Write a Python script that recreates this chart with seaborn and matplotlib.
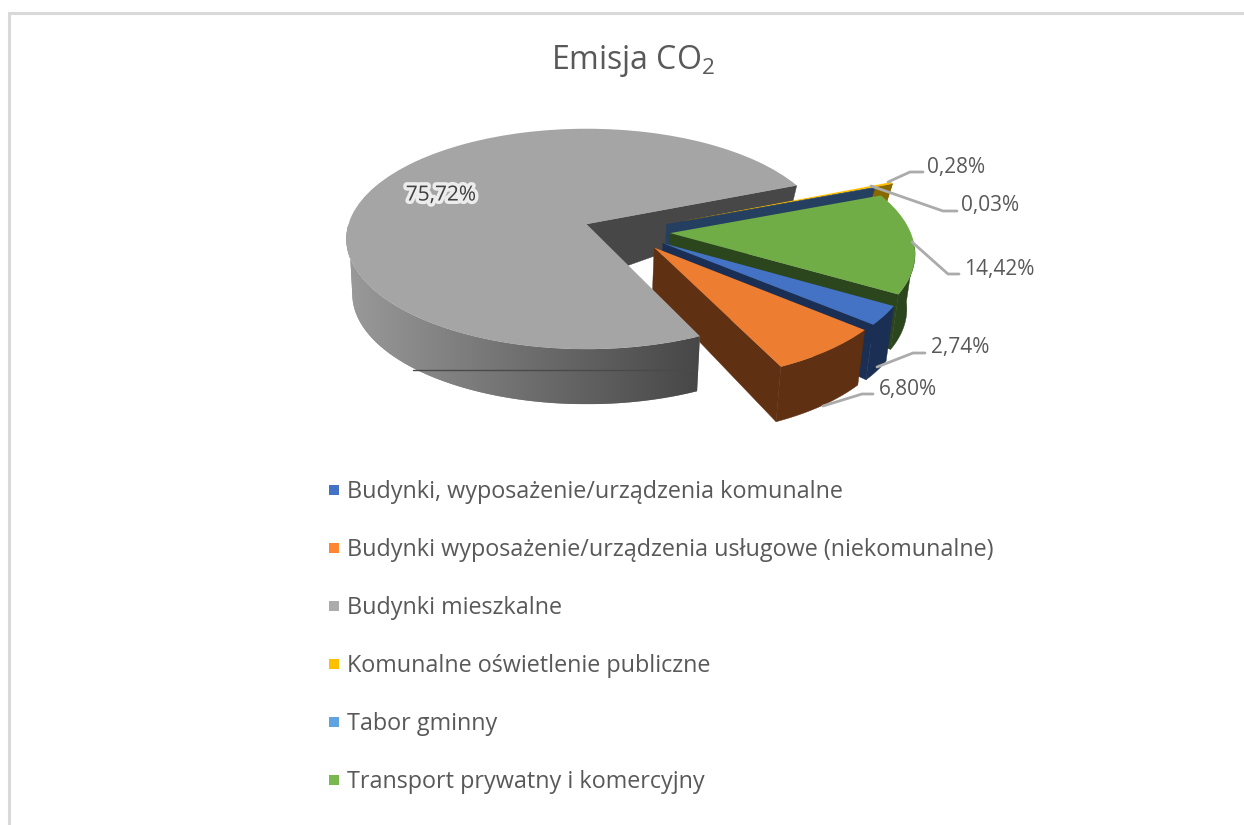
import numpy as np
import matplotlib
matplotlib.use("Agg")
import matplotlib.pyplot as plt
import matplotlib.patheffects as pe
from matplotlib.lines import Line2D
from matplotlib.patches import Polygon
from matplotlib.transforms import Transform
from matplotlib.colors import to_rgb
import seaborn as sns

# Emission shares in percent, in the order of the legend
categories = [
    "Budynki, wyposażenie/urządzenia komunalne",
    "Budynki wyposażenie/urządzenia usługowe (niekomunalne)",
    "Budynki mieszkalne",
    "Komunalne oświetlenie publiczne",
    "Tabor gminny",
    "Transport prywatny i komercyjny",
]
shares = [2.74, 6.80, 75.72, 0.28, 0.03, 14.42]
slice_offsets = [0.18, 0.18, 0.18, 0.27, 0.18, 0.18]

top_colors = ["#4472C4", "#ED7D31", "#A5A5A5", "#FFC000", "#5B9BD5", "#70AD47"]
wall_colors = ["#1B2F55", "#5F3012", "#474747", "#8A6800", "#243F60", "#2B451C"]
key_colors = ["#4472C4", "#FF8533", "#ABABAB", "#FFC000", "#5FA3E0", "#78B84C"]

sns.set_theme(style="white")
plt.rcParams["font.family"] = ["Open Sans", "DejaVu Sans"]
plt.rcParams["mathtext.fontset"] = "custom"
plt.rcParams["mathtext.rm"] = "Open Sans"
plt.rcParams["mathtext.default"] = "regular"

TEXT = "#595959"
LEADER = "#ABABAB"
FRAME = "#D9D9D9"

# Camera: ground-plane pie coordinates are viewed in perspective
CX, CY = 586.0, 227.0
HALF_W, HALF_H = 239.0, 109.0
TILT = 0.135
DEPTH = 55.0
SHRINK = 0.975


def project(u, v, z=0.0):
    """Pie coordinates to page pixels; z is the depth below the top face."""
    u, v = np.asarray(u, float), np.asarray(v, float)
    w = 1 + TILT * v
    scale = SHRINK if z else 1.0
    return CX + scale * HALF_W * u / w, CY - HALF_H * v / w + z


class PerspectiveTransform(Transform):
    input_dims = output_dims = 2
    is_separable = False
    has_inverse = False

    def transform_non_affine(self, values):
        x, y = project(values[:, 0], values[:, 1])
        return np.column_stack([x, y])


fig = plt.figure(figsize=(12.44, 8.25), dpi=100)
ax = fig.add_axes([0, 0, 1, 1])

wedges, _ = ax.pie(
    shares,
    colors=top_colors,
    startangle=-31,
    counterclock=False,
    center=(0.17, -0.04),
    explode=slice_offsets,
    wedgeprops={"linewidth": 0},
)
ax.set_aspect("auto")
ax.axis("off")


def rim_point(wedge, angle):
    a = np.radians(angle)
    return wedge.center[0] + wedge.r * np.cos(a), wedge.center[1] + wedge.r * np.sin(a)


def draw_radial_wall(wedge, angle, color, zorder, apex_depth=DEPTH, rim_depth=DEPTH):
    cu, cv = wedge.center
    ru, rv = rim_point(wedge, angle)
    pts = [project(cu, cv), project(ru, rv), project(ru, rv, rim_depth), project(cu, cv, apex_depth)]
    ax.add_patch(Polygon(np.array(pts, float), closed=True, fc=color, ec=color, lw=0.3, zorder=zorder))


def draw_outer_wall(wedge, start, stop, color, zorder, depth=DEPTH):
    angles = np.linspace(start, stop, 60)
    ru, rv = rim_point(wedge, angles)
    tx, ty = project(ru, rv)
    bx, by = project(ru, rv, depth)
    pts = np.column_stack([np.r_[tx, bx[::-1]], np.r_[ty, by[::-1]]])
    ax.add_patch(Polygon(pts, closed=True, fc=color, ec=color, lw=0.3, zorder=zorder))


blue, orange, gray, yellow, fleet, green = wedges

for wedge in wedges:
    wedge.set_transform(PerspectiveTransform() + ax.transData)

# Painted from back to front
draw_radial_wall(gray, gray.theta1, wall_colors[2], 1, apex_depth=56, rim_depth=22)

draw_outer_wall(yellow, yellow.theta1, yellow.theta2, wall_colors[3], 2, depth=24)
draw_radial_wall(yellow, yellow.theta1, wall_colors[3], 2, rim_depth=24)
yellow.set_zorder(2.5)

draw_radial_wall(fleet, fleet.theta1, wall_colors[4], 3, apex_depth=45, rim_depth=22)
fleet.set_zorder(3.5)

draw_outer_wall(green, green.theta1, green.theta1 + 24, wall_colors[5], 4)
draw_radial_wall(green, green.theta1, wall_colors[5], 4, apex_depth=45)
green.set_zorder(4.5)

draw_outer_wall(blue, blue.theta1, blue.theta2, wall_colors[0], 5)
draw_radial_wall(blue, blue.theta1, wall_colors[0], 5, apex_depth=45)
blue.set_zorder(5.5)

draw_outer_wall(orange, orange.theta1, orange.theta2, wall_colors[1], 6)
draw_radial_wall(orange, orange.theta1, wall_colors[1], 6, apex_depth=45)
orange.set_zorder(6.5)

# Curved side of the largest slice, shaded from light on the left to dark on the right.
# Its upper arc runs to the leftmost point of the top face, the lower arc stops just short.
top_u, top_v = rim_point(gray, np.linspace(gray.theta2, -180, 120))
low_u, low_v = rim_point(gray, np.linspace(gray.theta2, -170, 120))
tx, ty = project(top_u, top_v)
bx, by = project(low_u, low_v, DEPTH)
outline = np.column_stack([np.r_[tx, bx[::-1]], np.r_[ty, by[::-1]]])
ax.add_patch(Polygon(outline, closed=True, fc="#8A8A8A", lw=0, zorder=6.9))
side_ramp = sns.blend_palette(["#9A9A9A", "#6F6F6F", "#474747"], 256)
shade = ax.imshow(
    np.array([[to_rgb(c) for c in side_ramp]]),
    extent=(outline[:, 0].min(), outline[:, 0].max(), outline[:, 1].max(), outline[:, 1].min()),
    aspect="auto", interpolation="bilinear", zorder=7,
)
shade.set_clip_path(Polygon(outline, closed=True, transform=ax.transData))
ax.plot([413, 697], [370, 370], color="#4A4A4A", lw=1, zorder=7.2)
gray.set_zorder(7.5)

ax.set_xlim(0, 1244)
ax.set_ylim(825, 0)

# Data labels with their leader lines
value_labels = [f"{v:.2f}%".replace(".", ",") for v in shares]
label_xy = [(960, 348), (908, 390), None, (956, 167), (990, 206), (999, 269)]
leaders = [
    [(877, 367), (913, 353), (925, 353)],
    [(823, 406), (862, 394), (873, 394)],
    None,
    [(888, 182), (910, 172), (923, 172)],
    [(871, 186), (943, 211), (957, 211)],
    [(912, 242), (948, 274), (959, 274)],
]
LABEL_SIZE = 15
for text, xy, leader in zip(value_labels, label_xy, leaders):
    if xy is None:
        continue
    xs, ys = zip(*leader)
    ax.plot(xs, ys, color=LEADER, lw=2, zorder=9, solid_joinstyle="round")
    ax.text(*xy, text, ha="center", va="center", fontsize=LABEL_SIZE, color=TEXT, zorder=10)

ax.text(
    441, 195, value_labels[2], ha="center", va="center", fontsize=LABEL_SIZE, color="#404040", zorder=10,
    path_effects=[pe.withStroke(linewidth=5, foreground="white", alpha=0.8)],
)

ax.text(633, 61, "Emisja CO$_{2}$", ha="center", va="center", fontsize=23, color=TEXT, zorder=10)

# Legend stacked under the pie
handles = [
    Line2D([], [], linestyle="none", marker="s", markersize=7, markerfacecolor=c, markeredgewidth=0)
    for c in key_colors
]
ax.legend(
    handles, categories,
    loc="upper left", bbox_to_anchor=(323, 480), bbox_transform=ax.transData,
    frameon=False, fontsize=16.8, labelcolor=TEXT,
    handlelength=0.9, handletextpad=0.13, labelspacing=1.46, borderpad=0, borderaxespad=0,
)

# Chart frame, cut off by the page on the right and at the bottom
ax.plot([8.5, 8.5, 1244], [825, 12.5, 12.5], color=FRAME, lw=2.2, zorder=0, solid_joinstyle="miter")

fig.savefig("out.png", dpi=100, facecolor="white")
